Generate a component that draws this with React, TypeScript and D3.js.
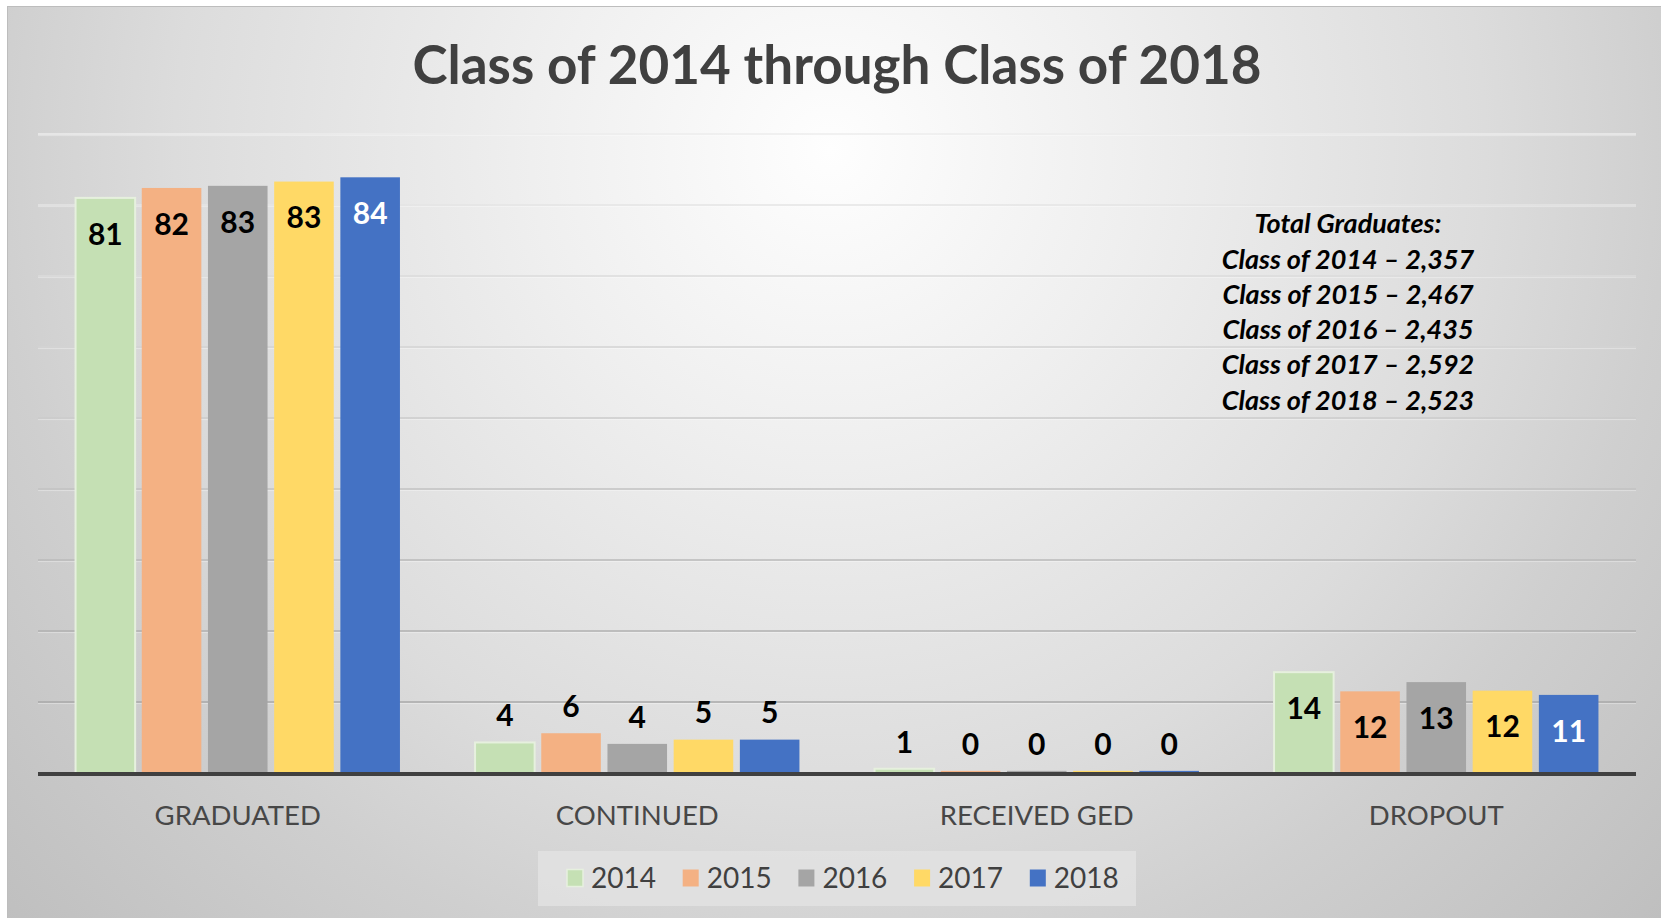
import React from "react";
import * as d3 from "d3";

// categories and series
const categories = ["GRADUATED", "CONTINUED", "RECEIVED GED", "DROPOUT"];
const years = ["2014", "2015", "2016", "2017", "2018"];
const values2014 = [81.0, 4.3, 0.6, 14.2];
const values2015 = [82.4, 5.6, 0.3, 11.5];
const values2016 = [82.7, 4.1, 0.3, 12.8];
const values2017 = [83.3, 4.7, 0.3, 11.6];
const values2018 = [83.9, 4.7, 0.3, 11.0];
const yTicks = [10, 20, 30, 40, 50, 60, 70, 80, 90];

const totalsTitle = "Total Graduates:";
const totalYears = ["2014", "2015", "2016", "2017", "2018"];
const totalCounts = ["2,357", "2,467", "2,435", "2,592", "2,523"];

const series = [values2014, values2015, values2016, values2017, values2018];
const colors = ["#c5e0b4", "#f4b183", "#a5a5a5", "#ffd966", "#4472c4"];
const labelColors = ["#000", "#000", "#000", "#000", "#fff"];

const W = 1661;
const H = 918;
const left = 38;
const right = 1636;

export default function App() {
  const x0 = d3
    .scaleBand<string>()
    .domain(categories)
    .range([left, right])
    .paddingInner(0.188)
    .paddingOuter(0.094);
  const x1 = d3
    .scaleBand<string>()
    .domain(years)
    .range([0, x0.bandwidth()])
    .paddingInner(0.1);
  const y = d3.scaleLinear().domain([0, 90]).range([773, 134]);
  const gridColor = d3
    .scaleLinear<string>()
    .domain([134, 702])
    .range(["#ececec", "#a9a9a9"])
    .interpolate(d3.interpolateRgb);

  const legendX = d3
    .scaleBand<string>()
    .domain(years)
    .range([567, 567 + 5 * 115.7]);

  const font = "Lato, 'Open Sans', sans-serif";

  return (
    <svg
      width={W}
      height={H}
      style={{ position: "absolute", left: 0, top: 0, display: "block" }}
    >
      <defs>
        <radialGradient
          id="bg"
          gradientUnits="userSpaceOnUse"
          cx={830}
          cy={150}
          r={1150}
        >
          <stop offset="0" stopColor="#fefefe" />
          <stop offset="0.26" stopColor="#efefef" />
          <stop offset="0.57" stopColor="#dcdcdc" />
          <stop offset="0.73" stopColor="#cfcfcf" />
          <stop offset="1" stopColor="#bebebe" />
        </radialGradient>
      </defs>
      <rect x={0} y={0} width={W} height={H} fill="#fff" />
      <rect
        x={7.5}
        y={6.5}
        width={W}
        height={H}
        fill="url(#bg)"
        stroke="#bdbdbd"
        strokeWidth={1}
      />

      {/* gridlines */}
      {yTicks.map((t) => (
        <g key={t}>
          <line
            x1={left}
            x2={right}
            y1={y(t)}
            y2={y(t)}
            stroke={gridColor(y(t))}
            strokeWidth={1.6}
          />
          <line
            x1={left}
            x2={right}
            y1={y(t) + 1.6}
            y2={y(t) + 1.6}
            stroke="#ffffff"
            strokeOpacity={0.35}
            strokeWidth={1}
          />
        </g>
      ))}

      <text
        x={(left + right) / 2}
        y={84}
        textAnchor="middle"
        fontFamily={font}
        fontWeight={700}
        fontSize={53}
        fill="#404040"
      >
        Class of 2014 through Class of 2018
      </text>

      {/* bars */}
      {categories.map((cat, ci) => (
        <g key={cat} transform={`translate(${x0(cat)},0)`}>
          {years.map((yr, si) => {
            const v = series[si][ci];
            const top = y(v);
            const h = y(0) - top;
            const inside = h > 50;
            const bx = x1(yr)!;
            return (
              <g key={yr}>
                <rect
                  x={bx}
                  y={top}
                  width={x1.bandwidth()}
                  height={h}
                  fill={colors[si]}
                  stroke={si === 0 ? "#e6f0de" : "none"}
                  strokeWidth={2}
                />
                <text
                  x={bx + x1.bandwidth() / 2}
                  y={inside ? top + 36 : top - 27}
                  dy="0.36em"
                  textAnchor="middle"
                  fontFamily={font}
                  fontWeight={700}
                  fontSize={30}
                  fill={inside ? labelColors[si] : "#000"}
                >
                  {Math.round(v)}
                </text>
              </g>
            );
          })}
          <text
            x={x0.bandwidth() / 2}
            y={815}
            dy="0.36em"
            textAnchor="middle"
            fontFamily={font}
            fontSize={27.5}
            fill="#474747"
          >
            {cat}
          </text>
        </g>
      ))}

      {/* axis line */}
      <line
        x1={left}
        x2={right}
        y1={774}
        y2={774}
        stroke="#404040"
        strokeWidth={4}
      />

      {/* totals note */}
      <g
        fontFamily={font}
        fontWeight={700}
        fontStyle="italic"
        fontSize={27}
        fill="#000"
        textAnchor="middle"
      >
        <text x={1348} y={223.5} dy="0.36em">
          {totalsTitle}
        </text>
        {totalYears.map((yr, i) => (
          <text key={yr} x={1348} y={258.8 + i * 35.3} dy="0.36em">
            {`Class of ${yr} \u2013 ${totalCounts[i]}`}
          </text>
        ))}
      </g>

      {/* legend */}
      <rect x={538} y={851} width={598} height={55} fill="#e2e2e2" fillOpacity={0.85} />
      {years.map((yr, i) => (
        <g key={yr} transform={`translate(${legendX(yr)},878)`}>
          <rect
            x={0}
            y={-8.5}
            width={16}
            height={17}
            fill={colors[i]}
            stroke={i === 0 ? "#e6f0de" : "none"}
            strokeWidth={1.5}
          />
          <text
            x={24}
            y={0}
            dy="0.36em"
            fontFamily={font}
            fontSize={28}
            fill="#404040"
          >
            {yr}
          </text>
        </g>
      ))}
    </svg>
  );
}
